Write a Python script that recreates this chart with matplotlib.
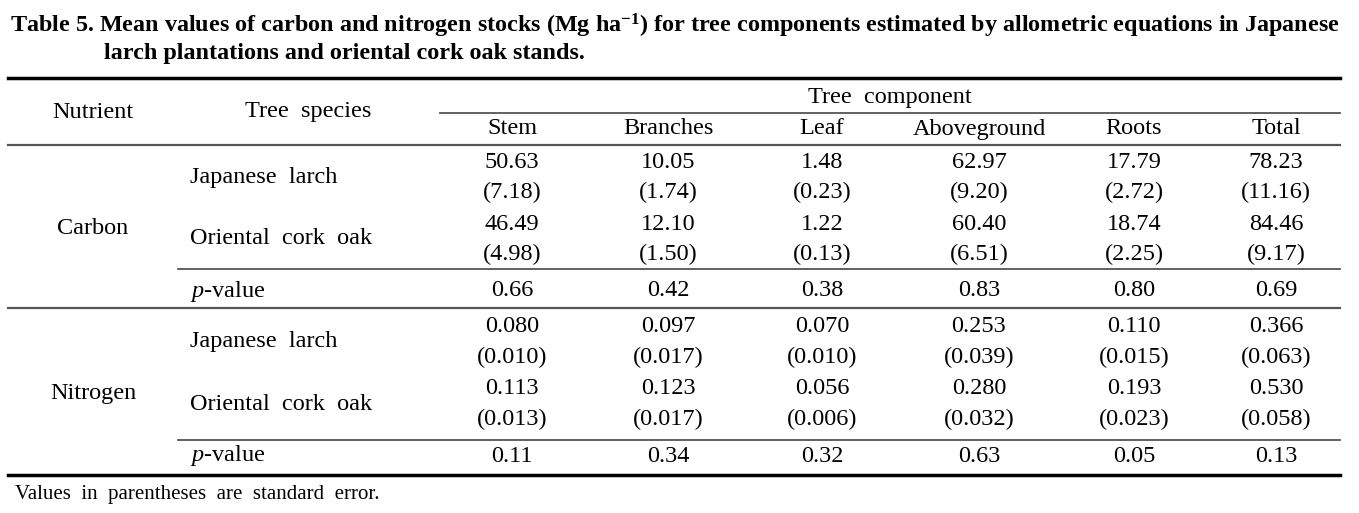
import matplotlib
matplotlib.use("Agg")
from matplotlib import pyplot as plt

plt.rcParams['font.family'] = ['Liberation Serif', 'DejaVu Serif']
plt.rcParams['mathtext.fontset'] = 'custom'
plt.rcParams['mathtext.rm'] = 'Liberation Serif'
plt.rcParams['mathtext.it'] = 'Liberation Serif:italic'
plt.rcParams['mathtext.bf'] = 'Liberation Serif:bold'

"""Table data"""
components = ["Stem", "Branches", "Leaf", "Aboveground", "Roots", "Total"]
nutrients = ["Carbon", "Nitrogen"]
species = ["Japanese  larch", "Oriental  cork  oak"]

carbon_larch = [50.63, 10.05, 1.48, 62.97, 17.79, 78.23]
carbon_larch_se = [7.18, 1.74, 0.23, 9.20, 2.72, 11.16]
carbon_oak = [46.49, 12.10, 1.22, 60.40, 18.74, 84.46]
carbon_oak_se = [4.98, 1.50, 0.13, 6.51, 2.25, 9.17]
carbon_p = [0.66, 0.42, 0.38, 0.83, 0.80, 0.69]

nitrogen_larch = [0.080, 0.097, 0.070, 0.253, 0.110, 0.366]
nitrogen_larch_se = [0.010, 0.017, 0.010, 0.039, 0.015, 0.063]
nitrogen_oak = [0.113, 0.123, 0.056, 0.280, 0.193, 0.530]
nitrogen_oak_se = [0.013, 0.017, 0.006, 0.032, 0.023, 0.058]
nitrogen_p = [0.11, 0.34, 0.32, 0.63, 0.05, 0.13]

title_1 = ("Table 5. Mean values of carbon and nitrogen stocks (Mg ha$^{\\mathbf{-1}}$) "
           "for tree components estimated by allometric equations in Japanese")
title_2 = "larch plantations and oriental cork oak stands."
footnote = "Values  in  parentheses  are  standard  error."

"""Layout (pixel units)"""
W, H = 1359, 513
fs = 17.5
dy = 2
col_x = [512, 668, 822, 979, 1134, 1276]
left, right = 8, 1340

fig = plt.figure(figsize=(W / 100, H / 100), dpi=100)
ax = fig.add_axes([0, 0, 1, 1])
ax.set_xlim(0, W)
ax.set_ylim(H, 0)
ax.axis("off")


def cell(x, y, s, ha="center", size=fs, **kw):
    ax.text(x, y + dy, s, fontsize=size, ha=ha, va="center", **kw)


cell(10, 24, title_1, ha="left", size=17.4, fontweight="bold")
cell(104, 52, title_2, ha="left", size=17.4, fontweight="bold")

# rules
ax.plot([left, right], [78, 78], color="black", lw=2.5)
ax.plot([440, right], [113, 113], color="#555555", lw=1.3)
ax.plot([left, right], [145, 145], color="#555555", lw=1.6)
ax.plot([178, right], [269, 269], color="#555555", lw=1.3)
ax.plot([left, right], [308, 308], color="#555555", lw=1.6)
ax.plot([178, right], [440, 440], color="#555555", lw=1.3)
ax.plot([left, right], [475, 475], color="black", lw=2.5)

# header
cell(93, 110, "Nutrient")
cell(308, 110, "Tree  species")
cell(890, 96, "Tree  component")
for x, name in zip(col_x, components):
    cell(x, 127, name)

blocks = [
    (carbon_larch, carbon_larch_se, carbon_oak, carbon_oak_se, carbon_p, "{:.2f}"),
    (nitrogen_larch, nitrogen_larch_se, nitrogen_oak, nitrogen_oak_se, nitrogen_p, "{:.3f}"),
]
block_top = [160, 325]
nutrient_y = [227, 392]

for nutrient, top, ny, block in zip(nutrients, block_top, nutrient_y, blocks):
    larch, larch_se, oak, oak_se, pvals, fmt = block
    cell(93, ny, nutrient)
    rows = [(larch, larch_se), (oak, oak_se)]
    for i, (name, (means, ses)) in enumerate(zip(species, rows)):
        y = top + i * 62
        cell(190, y + 15, name, ha="left")
        for x, m, s in zip(col_x, means, ses):
            cell(x, y, fmt.format(m))
            cell(x, y + 30, "(" + fmt.format(s) + ")")
    py = top + 129
    cell(190, py, "$\\mathit{p}$-value", ha="left")
    for x, p in zip(col_x, pvals):
        cell(x, py, "{:.2f}".format(p))

cell(15, 493, footnote, ha="left", size=15)

fig.savefig("out.png", dpi=100)
